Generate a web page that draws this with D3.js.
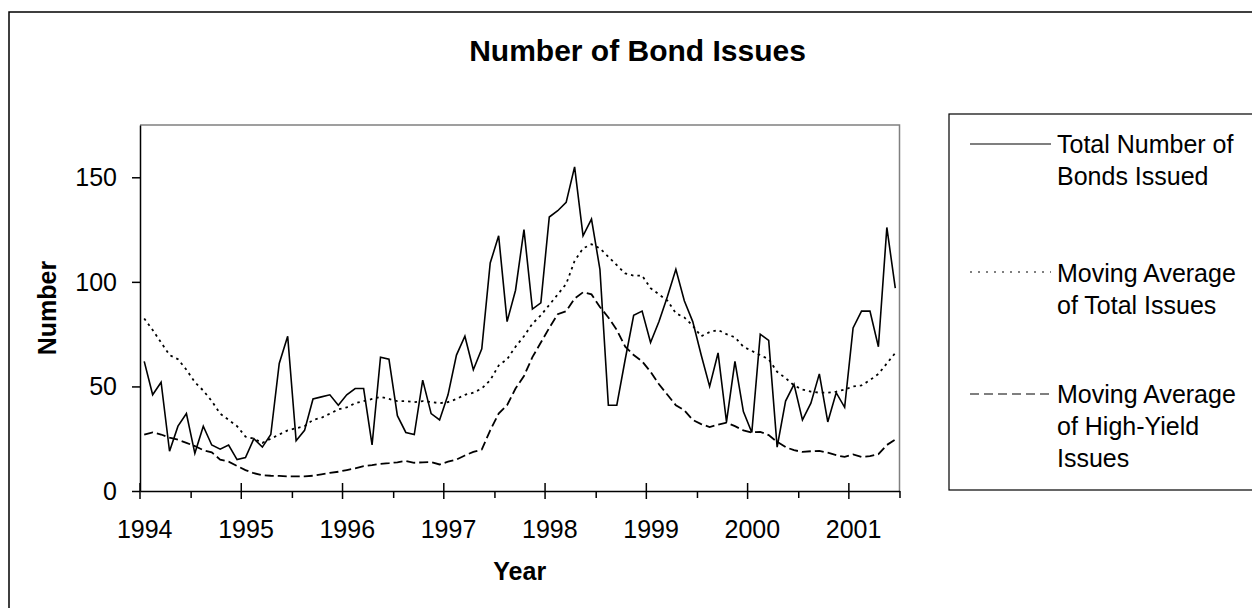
<!DOCTYPE html>
<html>
<head>
<meta charset="utf-8">
<script src="https://cdn.jsdelivr.net/npm/d3@7"></script>
<style>
  body { margin: 0; background: #fff; }
  svg { display: block; font-family: Arial, "Liberation Sans", sans-serif; }
</style>
</head>
<body>
<div class="chart-container-bonds"></div>
<script>
// monthly data, Jan 1994 to Jun 2001
const yearLabels = ["1994", "1995", "1996", "1997", "1998", "1999", "2000", "2001"];

const totalIssues = [
  62, 46, 52, 19, 31, 37, 18, 31, 22, 20, 22, 15,
  16, 25, 21, 27, 61, 74, 24, 29, 44, 45, 46, 41,
  46, 49, 49, 22, 64, 63, 36, 28, 27, 53, 37, 34,
  46, 65, 74, 58, 68, 109, 122, 81, 96, 125, 87, 90,
  131, 134, 138, 155, 122, 130, 106, 41, 41, 63, 84, 86,
  71, 81, 93, 106, 91, 81, 65, 50, 66, 33, 62, 38,
  28, 75, 72, 21, 43, 51, 34, 42, 56, 33, 47, 40,
  78, 86, 86, 69, 126, 97
];

const movingAvgTotal = [
  82.5, 77, 71, 65, 63, 58, 52, 48, 43, 37, 34, 31,
  26, 25, 23, 25, 27, 29, 30, 31, 34, 35, 37, 39,
  40, 42, 43, 44, 45, 44, 43, 43, 42.5, 43, 42.5, 42,
  42.5, 44, 46, 47, 49, 53, 60, 63, 69, 74, 80, 84,
  89, 94, 99, 110, 116, 118, 116, 112, 108, 104, 103, 103,
  97, 94, 91, 85, 83, 79, 74, 76, 77, 75, 73.5, 69,
  67, 65, 63, 57, 54, 50.5, 48.5, 47.5, 47, 47, 47.5, 48.5,
  50, 50.5, 53, 56, 61, 66
];

const movingAvgHighYield = [
  27, 28, 27, 25.5, 24.5, 23, 21.5, 19.5, 18.5, 15, 14, 12,
  10, 8.5, 7.5, 7.3, 7.2, 7, 7, 7, 7.3, 8, 8.7, 9.2,
  10, 10.8, 11.9, 12.4, 13, 13.3, 13.7, 14.4, 13.5, 13.7, 13.8, 12.7,
  14, 15, 17, 18.7, 19.8, 29, 37, 41, 49, 55, 64, 71,
  78, 84.5, 86, 92, 95, 94, 88, 83, 77, 69, 65, 62,
  57, 51, 46, 41, 38.6, 34, 32, 30.6, 31.7, 32.7, 31, 29,
  28, 28.3, 26.7, 23.5, 21, 19.5, 18.7, 19, 19.2, 18.3, 17.1, 16.3,
  17.5, 16.3, 16.7, 17.6, 22, 24.6
];

const yTicks = [0, 50, 100, 150];

const legendLabels = [
  ["Total Number of", "Bonds Issued"],
  ["Moving Average", "of Total Issues"],
  ["Moving Average", "of High-Yield", "Issues"]
];

const svgWidth = 1252;
const svgHeight = 608;
const plot = { left: 140, top: 125, right: 899.5, bottom: 491 };

const svg = d3.select(".chart-container-bonds")
    .append("svg")
    .attr("width", svgWidth)
    .attr("height", svgHeight);

// chart area border, it runs past the right and bottom of the picture
svg.append("rect")
    .attr("x", 9)
    .attr("y", 12)
    .attr("width", 1257)
    .attr("height", 640)
    .attr("fill", "none")
    .attr("stroke", "#000")
    .attr("stroke-width", 1.5);

const nMonths = totalIssues.length;

// category axis: one slot per month, points in the middle of the slot
const x = d3.scaleLinear()
    .domain([0, nMonths])
    .range([plot.left, plot.right]);

const y = d3.scaleLinear()
    .domain([0, 175])
    .range([plot.bottom, plot.top]);

// grey top and right edges of the plot area
svg.append("path")
    .attr("d", `M${plot.left},${plot.top}H${plot.right}V${plot.bottom}`)
    .attr("fill", "none")
    .attr("stroke", "#808080")
    .attr("stroke-width", 1.5);

// minor ticks (mid year) + axis line
const xAxisG = svg.append("g")
    .attr("transform", `translate(0,${plot.bottom})`)
    .call(d3.axisBottom(x)
        .tickValues(d3.range(6, nMonths + 1, 12))
        .tickSizeInner(7)
        .tickSizeOuter(0)
        .tickFormat(""));
xAxisG.selectAll("path, line").attr("stroke", "#000").attr("stroke-width", 1.5);

// major ticks at year boundaries cross the axis
svg.append("g").selectAll("line")
    .data(d3.range(0, nMonths, 12))
    .enter()
    .append("line")
    .attr("x1", d => x(d))
    .attr("x2", d => x(d))
    .attr("y1", plot.bottom - 8)
    .attr("y2", plot.bottom + 8)
    .attr("stroke", "#000")
    .attr("stroke-width", 1.5);

// year labels sit under the January point
const xLabelG = svg.append("g")
    .attr("transform", `translate(0,${plot.bottom})`)
    .call(d3.axisBottom(x)
        .tickValues(d3.range(0, nMonths, 12).map(i => i + 0.5))
        .tickSize(0)
        .tickPadding(29)
        .tickFormat((d, k) => yearLabels[k]));
xLabelG.select(".domain").remove();
xLabelG.attr("font-size", 25).attr("font-family", null);
xLabelG.selectAll("text").attr("fill", "#000");

const yAxisG = svg.append("g")
    .attr("transform", `translate(${plot.left},0)`)
    .call(d3.axisLeft(y)
        .tickValues(yTicks)
        .tickSizeInner(8)
        .tickSizeOuter(0)
        .tickPadding(15));
yAxisG.attr("font-size", 25).attr("font-family", null);
yAxisG.selectAll("path, line").attr("stroke", "#000").attr("stroke-width", 1.5);
yAxisG.selectAll("text").attr("fill", "#000").attr("dy", "0.34em");

// series lines
const line = d3.line()
    .x((d, i) => x(i + 0.5))
    .y(d => y(d));

svg.append("path")
    .datum(movingAvgTotal)
    .attr("d", line)
    .attr("fill", "none")
    .attr("stroke", "#000")
    .attr("stroke-width", 1.8)
    .attr("stroke-dasharray", "2.5,4");

svg.append("path")
    .datum(movingAvgHighYield)
    .attr("d", line)
    .attr("fill", "none")
    .attr("stroke", "#000")
    .attr("stroke-width", 1.8)
    .attr("stroke-dasharray", "9,4");

svg.append("path")
    .datum(totalIssues)
    .attr("d", line)
    .attr("fill", "none")
    .attr("stroke", "#000")
    .attr("stroke-width", 1.6)
    .attr("stroke-linejoin", "miter");

// titles
svg.append("text")
    .text("Number of Bond Issues")
    .attr("x", 637.5)
    .attr("y", 61)
    .attr("text-anchor", "middle")
    .attr("font-size", 30)
    .attr("font-weight", "bold");

svg.append("text")
    .text("Year")
    .attr("x", (plot.left + plot.right) / 2)
    .attr("y", 580)
    .attr("text-anchor", "middle")
    .attr("font-size", 25)
    .attr("font-weight", "bold");

svg.append("text")
    .text("Number")
    .attr("transform", `translate(56,${(plot.top + plot.bottom) / 2}) rotate(-90)`)
    .attr("text-anchor", "middle")
    .attr("font-size", 25)
    .attr("font-weight", "bold");

// legend box, also clipped at the right
svg.append("rect")
    .attr("x", 949)
    .attr("y", 114)
    .attr("width", 340)
    .attr("height", 376)
    .attr("fill", "none")
    .attr("stroke", "#000")
    .attr("stroke-width", 1.2);

const legendStyles = [
    { dash: null, lineY: 144, textY: 153 },
    { dash: "2,6", lineY: 272, textY: 282 },
    { dash: "9,5", lineY: 394, textY: 403 }
];

const legend = svg.append("g").selectAll("g")
    .data(legendLabels)
    .enter()
    .append("g");

legend.append("line")
    .attr("x1", 970)
    .attr("x2", 1051)
    .attr("y1", (d, i) => legendStyles[i].lineY)
    .attr("y2", (d, i) => legendStyles[i].lineY)
    .attr("stroke", "#000")
    .attr("stroke-width", 1.2)
    .attr("stroke-dasharray", (d, i) => legendStyles[i].dash);

legend.append("text")
    .attr("x", 1057)
    .attr("y", (d, i) => legendStyles[i].textY)
    .attr("font-size", 25)
    .selectAll("tspan")
    .data(d => d)
    .enter()
    .append("tspan")
    .attr("x", 1057)
    .attr("dy", (d, k) => k === 0 ? 0 : 32)
    .text(d => d);
</script>
</body>
</html>
